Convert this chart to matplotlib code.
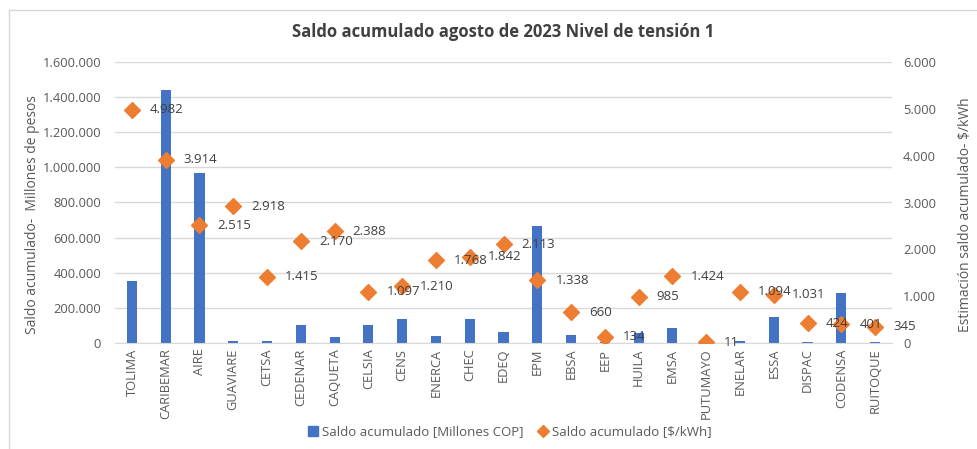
import matplotlib
matplotlib.use("Agg")
import matplotlib.pyplot as plt
from matplotlib.lines import Line2D
from matplotlib.ticker import FuncFormatter

categories = ["TOLIMA", "CARIBEMAR", "AIRE", "GUAVIARE", "CETSA", "CEDENAR", "CAQUETA",
              "CELSIA", "CENS", "ENERCA", "CHEC", "EDEQ", "EPM", "EBSA", "EEP", "HUILA",
              "EMSA", "PUTUMAYO", "ENELAR", "ESSA", "DISPAC", "CODENSA", "RUITOQUE"]
saldo_millones = [353000, 1440000, 968000, 12000, 12000, 102000, 34000,
                  102000, 137000, 40000, 137000, 63000, 666000, 46000, 4000, 55000,
                  85000, 1000, 12000, 148000, 6000, 285000, 6000]
saldo_kwh = [4982, 3914, 2515, 2918, 1415, 2170, 2388,
             1097, 1210, 1768, 1842, 2113, 1338, 660, 134, 985,
             1424, 11, 1094, 1031, 424, 401, 345]
left_ticks = [0, 200000, 400000, 600000, 800000, 1000000, 1200000, 1400000, 1600000]
right_ticks = [0, 1000, 2000, 3000, 4000, 5000, 6000]

plt.rcParams['font.family'] = ['Open Sans', 'DejaVu Sans']
TXT = '#595959'
BLUE = '#4472C4'
ORANGE = '#ED7D31'

def dotfmt(v, pos=None):
    return f"{int(round(v)):,}".replace(",", ".")

W, H = 977, 449
AX_L, AX_R, AX_T, AX_B = 115, 892, 62, 343
fig = plt.figure(figsize=(W / 100, H / 100), dpi=100)
ax = fig.add_axes([AX_L / W, 1 - AX_B / H, (AX_R - AX_L) / W, (AX_B - AX_T) / H])
ax2 = ax.twinx()

x = list(range(len(categories)))
ax.bar(x, saldo_millones, width=0.3, color=BLUE, zorder=2)
ax.set_ylim(0, 1600000)
ax.set_yticks(left_ticks)
ax.yaxis.set_major_formatter(FuncFormatter(dotfmt))
ax.set_xlim(-0.5, len(categories) - 0.5)
ax.set_xticks(x)
ax.set_xticklabels(categories, rotation=90, fontsize=9.3, color=TXT)
ax.grid(axis='y', color='#D9D9D9', linewidth=1, zorder=0)
ax.set_axisbelow(True)
ax.tick_params(axis='y', length=0, labelsize=9.3, labelcolor=TXT, pad=10)
ax.tick_params(axis='x', length=0, pad=4)
for s in ['top', 'left', 'right']:
    ax.spines[s].set_visible(False)
ax.spines['bottom'].set_color('#D9D9D9')
ax.set_ylabel("Saldo acumulado-  Millones de pesos", fontsize=10, color=TXT,
              va='center', ha='center')
ax.yaxis.set_label_coords((33 - AX_L) / (AX_R - AX_L), (AX_B - 215) / (AX_B - AX_T))

ax2.scatter(x, saldo_kwh, marker='D', s=65, color=ORANGE, zorder=3)
ax2.set_ylim(0, 6000)
ax2.set_yticks(right_ticks)
ax2.yaxis.set_major_formatter(FuncFormatter(dotfmt))
ax2.tick_params(axis='y', length=0, labelsize=9.3, labelcolor=TXT, pad=8)
for s in ['top', 'left', 'right', 'bottom']:
    ax2.spines[s].set_visible(False)
ax2.set_ylabel("Estimación saldo acumulado- $/kWh", fontsize=10, color=TXT,
               va='center', ha='center', rotation=90)
ax2.yaxis.set_label_coords((965 - AX_L) / (AX_R - AX_L), (AX_B - 215) / (AX_B - AX_T))
for xi, v in zip(x, saldo_kwh):
    ax2.annotate(dotfmt(v), (xi, v), xytext=(13, 0), textcoords='offset points',
                 va='center', ha='left', fontsize=9.5, color='#404040')

fig.text(503 / W, 1 - 32 / H, "Saldo acumulado agosto de 2023 Nivel de tensión 1",
         ha='center', va='center', fontsize=12, fontweight='bold', color='#404040')

handles = [Line2D([], [], marker='s', linestyle='none', color=BLUE, markersize=7),
           Line2D([], [], marker='D', linestyle='none', color=ORANGE, markersize=6)]
fig.legend(handles, ["Saldo acumulado [Millones COP]", "Saldo acumulado [$/kWh]"],
           loc='center', bbox_to_anchor=(509 / W, 1 - 432 / H), ncol=2, frameon=False,
           fontsize=9.5, labelcolor=TXT, handletextpad=0.2, columnspacing=1.0,
           handlelength=1.0)

fig.add_artist(Line2D([9 / W, 9 / W], [0, 1 - 10 / H], transform=fig.transFigure,
                      color='#D9D9D9', linewidth=1))
fig.add_artist(Line2D([9 / W, 1], [1 - 10 / H, 1 - 10 / H], transform=fig.transFigure,
                      color='#D9D9D9', linewidth=1))

fig.savefig("out.png", dpi=100)
